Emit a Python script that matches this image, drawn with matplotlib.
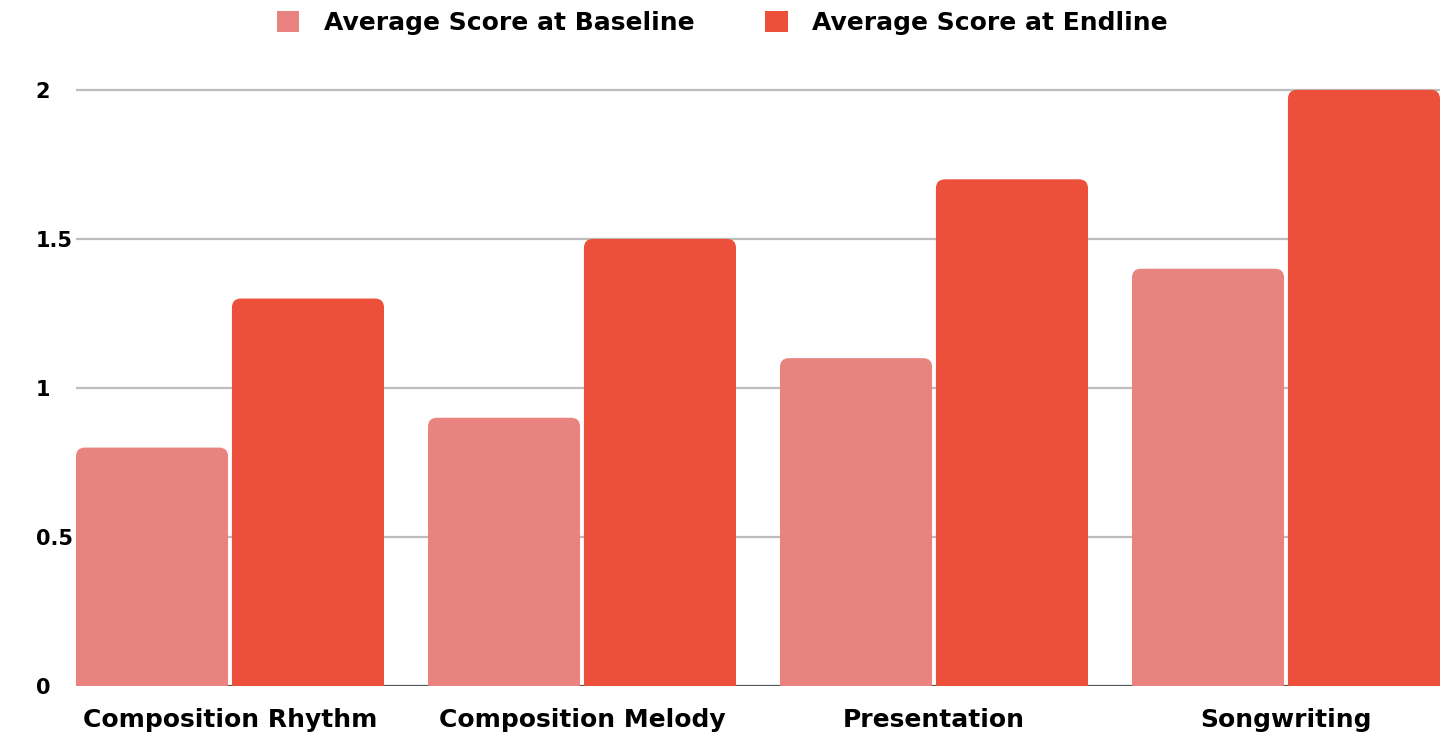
import matplotlib.pyplot as plt
import numpy as np
from matplotlib.patches import FancyBboxPatch, Patch

plt.rcParams['font.family'] = ['DejaVu Sans']
plt.rcParams['font.weight'] = 'bold'

categories = ["Composition Rhythm", "Composition Melody", "Presentation", "Songwriting"]
baseline = [0.8, 0.9, 1.1, 1.4]
endline = [1.3, 1.5, 1.7, 2.0]
series_names = ["Average Score at Baseline", "Average Score at Endline"]
colors = ["#E8837F", "#EC503A"]
yticks = [0, 0.5, 1, 1.5, 2]
ytick_labels = ["0", "0.5", "1", "1.5", "2"]

W, H = 1445, 740
fig = plt.figure(figsize=(W / 100, H / 100), dpi=100)
ax = fig.add_axes([76 / W, 54 / H, (1440 - 76) / W, 611 / H])

x = np.arange(len(categories))
bar_w = 0.432
gap = 0.011
ymax = 2.05

bars_a = ax.bar(x - (bar_w + gap) / 2, baseline, bar_w, color=colors[0], zorder=3)
bars_b = ax.bar(x + (bar_w + gap) / 2, endline, bar_w, color=colors[1], zorder=3)

ax.set_xlim(-0.4375, 3.4375)
ax.set_ylim(0, ymax)

# swap plain rectangles for ones with rounded top corners
px_per_x = (1440 - 76) / (x[-1] + 0.875)
px_per_y = 611 / ymax
radius = 9 / px_per_x
aspect = px_per_x / px_per_y
for bars in (bars_a, bars_b):
    for r in bars:
        bx, bw, bh = r.get_x(), r.get_width(), r.get_height()
        fb = FancyBboxPatch((bx, -0.1), bw, bh + 0.1,
                            boxstyle=f"round,pad=0,rounding_size={radius}",
                            mutation_aspect=aspect, facecolor=r.get_facecolor(),
                            edgecolor="none", zorder=3)
        ax.add_patch(fb)
        r.set_visible(False)

for y in yticks[1:]:
    ax.axhline(y, color="#BDBDBD", lw=1.6, zorder=1)
ax.axhline(0, color="#555555", lw=1.6, zorder=2)

for s in ax.spines.values():
    s.set_visible(False)

ax.set_yticks(yticks)
ax.set_yticklabels(ytick_labels, fontsize=15, fontweight="bold")
for lab in ax.get_yticklabels():
    lab.set_horizontalalignment("left")
ax.tick_params(axis="y", length=0, pad=29)
ax.set_xticks(x)
ax.set_xticklabels(categories, fontsize=18, fontweight="bold")
ax.tick_params(axis="x", length=0, pad=16)

handles = [Patch(facecolor=c, edgecolor="none") for c in colors]
fig.legend(handles, series_names, loc="upper center", bbox_to_anchor=(0.5, 1.015),
           ncol=2, frameon=False, prop={"size": 18, "weight": "bold"},
           handlelength=0.9, handleheight=0.9, handletextpad=1.0, columnspacing=2.8)

fig.savefig("out.png", dpi=100, facecolor="white")
